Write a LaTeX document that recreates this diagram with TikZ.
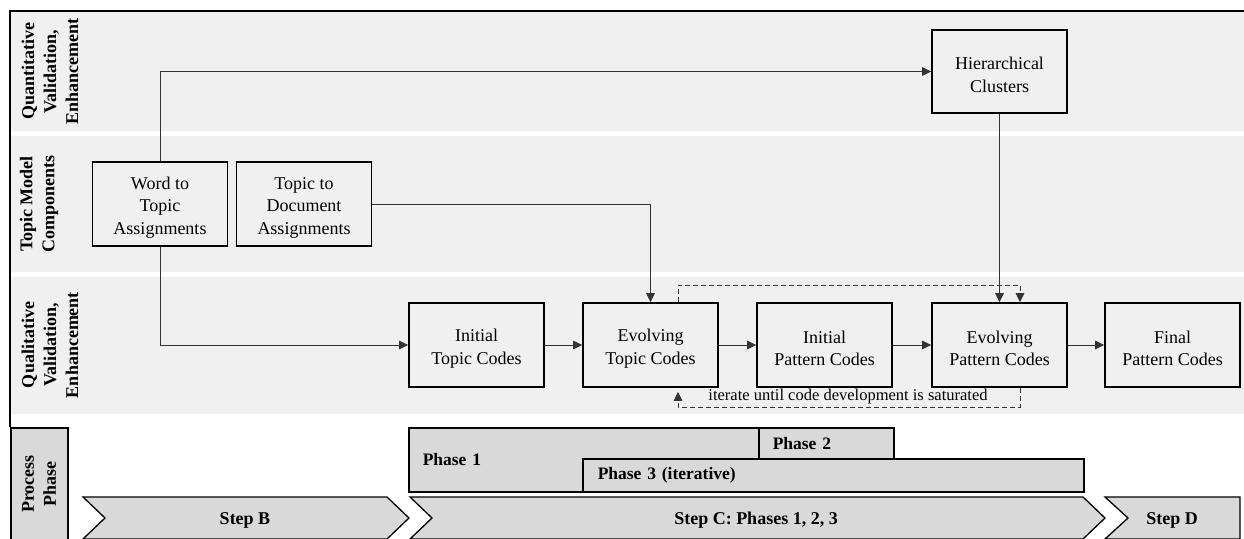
\documentclass[tikz,border=0pt]{standalone}
\usepackage{fontspec}
\setmainfont{Liberation Serif}
\usetikzlibrary{arrows.meta,calc}
\definecolor{lanegray}{HTML}{F0F0F0}
\definecolor{phasegray}{HTML}{D9D9D9}
\newcommand{\firststrut}{\rule{0pt}{19.5pt}}
\begin{document}
\begin{tikzpicture}[x=1pt,y=-1pt,
  box/.style={draw=black, line width=1.6pt, fill=lanegray, minimum width=135pt, minimum height=84pt, align=center, inner sep=2pt, font=\fontsize{18}{22.5}\selectfont},
  conn/.style={draw=black!80, line width=1pt, -{Triangle[length=9pt,width=8.5pt]}},
  dconn/.style={conn, dash pattern=on 5pt off 3pt},
  lanelbl/.style={rotate=90, align=center, inner sep=0pt, font=\fontsize{18}{22}\selectfont\bfseries},
  phasebox/.style={draw=black, line width=1.5pt, fill=phasegray, anchor=north west, align=left, inner ysep=0pt, font=\fontsize{17.5}{20}\selectfont\bfseries},
  stepshape/.style={draw=black, line width=1.3pt, fill=phasegray},
  steplbl/.style={inner sep=0pt, font=\fontsize{18}{20}\selectfont\bfseries}
]
\useasboundingbox (0,0) rectangle (1244,538);
% lanes
\fill[lanegray] (11,12) rectangle (1244,131);
\fill[lanegray] (11,136) rectangle (1244,272);
\fill[lanegray] (11,277) rectangle (1244,414);
% frame
\draw[line width=1.5pt] (1244,11) -- (10,11) -- (10,427);
% lane labels
\node[lanelbl] (q1) at (50,71.5) {Quantitative\\Validation,\\Enhancement};
\node[lanelbl] (q2) at (39,204) {Topic Model\\Components};
\node[lanelbl] (q3) at (50,345) {Qualitative\\Validation,\\Enhancement};
% process phase
\node[draw=black, line width=1.5pt, fill=phasegray, minimum width=57pt, minimum height=115pt, anchor=north west, inner sep=0pt] (ppbox) at (10,427) {};
\node[lanelbl] (pp) at (39,484) {Process\\Phase};
% boxes
\node[box] (wt) at (160,204) {\firststrut Word to\\Topic\\Assignments};
\node[box] (td) at (304,204) {\firststrut Topic to\\Document\\Assignments};
\node[box, minimum height=83pt] (hc) at (999.5,71.5) {\firststrut Hierarchical\\Clusters};
\node[box] (itc) at (476.5,345) {\firststrut Initial\\Topic Codes};
\node[box] (etc) at (650.5,345) {\firststrut Evolving\\Topic Codes};
\node[box] (ipc) at (824.5,345) {\firststrut Initial\\Pattern Codes};
\node[box] (epc) at (999.5,345) {\firststrut Evolving\\Pattern Codes};
\node[box] (fpc) at (1172.5,345) {\firststrut Final\\Pattern Codes};
% connectors
\draw[conn] (wt.north) |- (hc.west);
\draw[conn] (wt.south) |- (itc.west);
\draw[conn] (td.east) -| (etc.north);
\draw[conn] (hc.south) -- (epc.north);
\draw[conn] (itc.east) -- (etc.west);
\draw[conn] (etc.east) -- (ipc.west);
\draw[conn] (ipc.east) -- (epc.west);
\draw[conn] (epc.east) -- (fpc.west);
% iteration loop
\coordinate (tl) at (678,285);
\coordinate (tr) at (1020,285);
\coordinate (bl) at (678,407);
\coordinate (br) at (1020,407);
\draw[dconn] (etc.north -| tl) -- (tl) -- (tr) -- (epc.north -| tr);
\draw[dconn, shorten >=4pt] (epc.south -| br) -- (br) -- (bl) -- (etc.south -| bl);
\node[inner sep=0pt, font=\fontsize{16.5}{18}\selectfont] (iter) at (848,397) {iterate until code development is saturated};
% phases
\node[phasebox, minimum height=64pt, text width=322pt, inner xsep=14pt] (ph1) at (408,427) {Phase 1};
\node[phasebox, minimum height=31pt, text width=107pt, inner xsep=14pt] (ph2) at (758,427) {Phase 2};
\node[phasebox, minimum height=33pt, text width=471pt, inner xsep=15pt] (ph3) at (582,458) {Phase 3 (iterative)};
% steps
\draw[stepshape] (83,497) -- (387,497) -- (409,518) -- (387,539) -- (83,539) -- (105,518) -- cycle;
\draw[stepshape] (410,497) -- (1083,497) -- (1105,518) -- (1083,539) -- (410,539) -- (432,518) -- cycle;
\draw[stepshape] (1105,497) -- (1240,497) -- (1240,539) -- (1105,539) -- (1128,518) -- cycle;
\node[steplbl] (sb) at (245,520) {Step B};
\node[steplbl] (sc) at (756,520) {Step C: Phases 1, 2, 3};
\node[steplbl] (sd) at (1172,520) {Step D};
\end{tikzpicture}
\end{document}
